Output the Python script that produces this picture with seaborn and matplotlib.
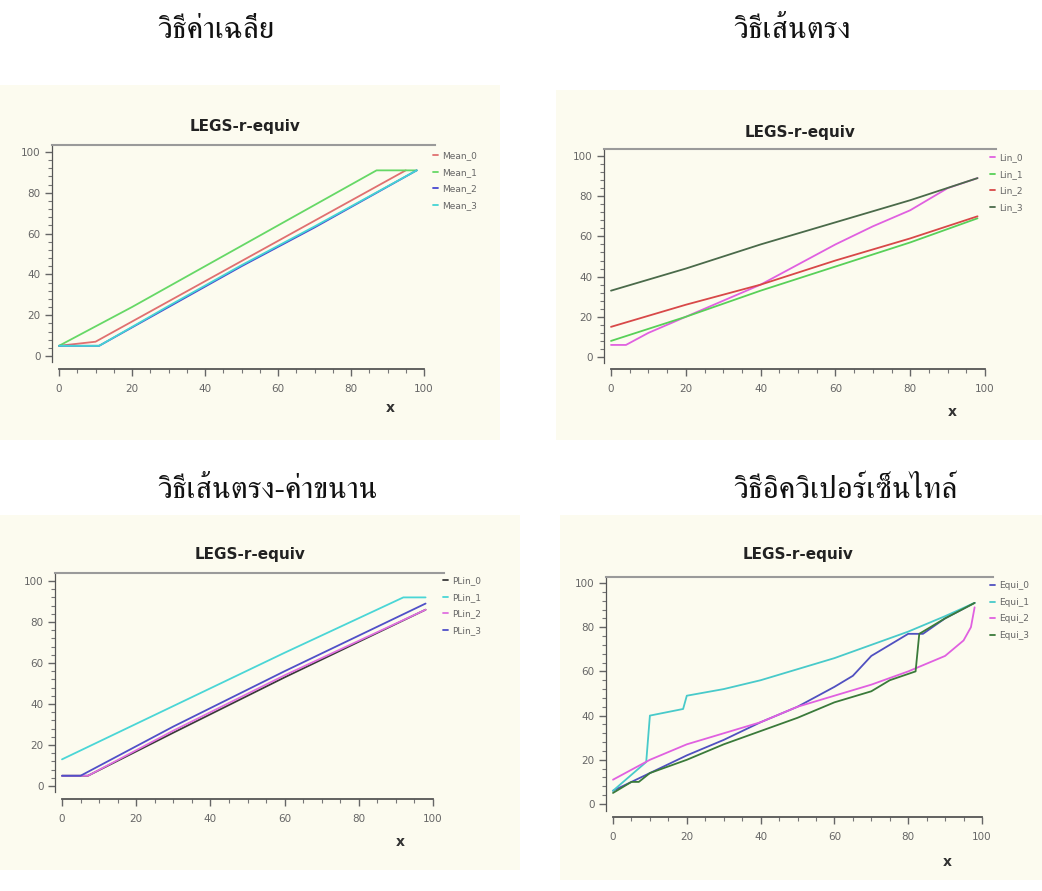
import numpy as np
import pandas as pd
import matplotlib
matplotlib.use("Agg")
import matplotlib.pyplot as plt
from matplotlib import font_manager
from matplotlib.ft2font import FT2Font
from matplotlib.patches import Rectangle
from matplotlib.ticker import MultipleLocator
import seaborn as sns

# ---- data (x, y knots per series) ----
headings = ["วิธีค่าเฉลี่ย", "วิธีเส้นตรง", "วิธีเส้นตรง-ค่าขนาน", "วิธีอิควิเปอร์เซ็นไทล์"]
chart_title = "LEGS-r-equiv"

mean_names = ["Mean_0", "Mean_1", "Mean_2", "Mean_3"]
mean_x = [[0, 10, 95],
          [0, 20, 40, 60, 87, 98],
          [0, 11, 30, 50, 70, 98],
          [0, 11, 30, 50, 70, 98]]
mean_y = [[5, 7, 91],
          [5, 24, 44, 64, 91, 91],
          [5, 5, 24, 44, 63, 91],
          [5, 5, 24.5, 44.5, 63.5, 91]]

lin_names = ["Lin_0", "Lin_1", "Lin_2", "Lin_3"]
lin_x = [[0, 4, 10, 20, 30, 40, 50, 60, 70, 80, 90, 98],
         [0, 20, 40, 60, 80, 98],
         [0, 20, 40, 60, 80, 98],
         [0, 20, 40, 60, 80, 98]]
lin_y = [[6, 6, 12, 20, 28, 36, 46, 56, 65, 73, 84, 89],
         [8, 20, 33, 45, 57, 69],
         [15, 26, 36, 48, 59, 70],
         [33, 44, 56, 67, 78, 89]]

plin_names = ["PLin_0", "PLin_1", "PLin_2", "PLin_3"]
plin_x = [[0, 7, 30, 60, 98],
          [0, 30, 60, 92, 98],
          [0, 7, 30, 60, 98],
          [0, 5, 30, 60, 98]]
plin_y = [[5, 5, 26, 53, 86],
          [13, 39, 65, 92, 92],
          [5, 5, 27, 54, 86],
          [5, 5, 29, 56, 89]]

equi_names = ["Equi_0", "Equi_1", "Equi_2", "Equi_3"]
equi_x = [[0, 10, 20, 30, 40, 50, 60, 65, 70, 75, 80, 84, 90, 98],
          [0, 9, 10, 19, 20, 30, 40, 48, 60, 70, 80, 90, 98],
          [0, 10, 20, 30, 40, 50, 60, 70, 80, 90, 95, 97, 98],
          [0, 5, 7, 10, 20, 30, 40, 50, 60, 70, 75, 82, 83, 90, 98]]
equi_y = [[6, 14, 22, 29, 37, 44, 53, 58, 67, 72, 77, 77, 84, 91],
          [6, 19, 40, 43, 49, 52, 56, 60, 66, 72, 78, 85, 91],
          [11, 20, 27, 32, 37, 44, 49, 54, 60, 67, 74, 80, 89],
          [5, 10, 10, 14, 20, 27, 33, 39, 46, 51, 56, 60, 77, 84, 91]]

colors = {
    "Mean": ["#e07070", "#66d866", "#4848d0", "#44d4d4"],
    "Lin": ["#e060e0", "#58d058", "#d84848", "#4a6a4a"],
    "PLin": ["#3a3a3a", "#4ad6d6", "#e070e0", "#5050c8"],
    "Equi": ["#5050c0", "#48caca", "#e060e0", "#3a7a3a"],
}

# ---- fonts ----
def find_thai_font():
    cands = []
    for f in font_manager.fontManager.ttflist:
        try:
            if FT2Font(f.fname).get_char_index(ord("ว")):
                cands.append(f.name)
        except Exception:
            pass
    cands.sort(key=lambda n: (0 if "Serif" in n else 1, n))
    return cands[0] if cands else "DejaVu Sans"

sns.set_style("ticks")
thai = find_thai_font()
plt.rcParams["font.family"] = [thai, "DejaVu Sans"]

W, H = 1042, 891
fig = plt.figure(figsize=(W / 100, H / 100), dpi=100)
fig.patch.set_facecolor("white")

# cream panel backgrounds of the scanned page
for (l, t, r, b) in [(0, 85, 500, 440), (556, 90, 1042, 440),
                     (0, 515, 520, 870), (560, 515, 1042, 880)]:
    fig.patches.append(Rectangle((l / W, 1 - b / H), (r - l) / W, (b - t) / H,
                                 transform=fig.transFigure, facecolor="#fcfbef",
                                 edgecolor="none", zorder=-5))

heads_pos = [(157, 31), (733, 31), (157, 491), (733, 491)]
for txt, (hx, hy) in zip(headings, heads_pos):
    fig.text(hx / W, 1 - hy / H, txt, ha="left", va="center", fontsize=22.5,
             color="#111111", family=[thai, "DejaVu Sans"])

# panel geometry in pixels: x=0, x=100, y=0, y=100, top line, x-axis line
panels = [
    ("Mean", mean_names, mean_x, mean_y, (59, 424, 356, 152, 145, 367), (245, 127), (390, 408), (433, 151)),
    ("Lin", lin_names, lin_x, lin_y, (611, 985, 357, 156, 149, 367), (800, 132), (952, 412), (990, 153)),
    ("PLin", plin_names, plin_x, plin_y, (62, 433, 786, 581, 573, 797), (250, 555), (400, 842), (443, 576)),
    ("Equi", equi_names, equi_x, equi_y, (613, 982, 804, 583, 577, 815), (798, 555), (947, 862), (990, 581)),
]

tick_font = ["Liberation Sans Narrow", "DejaVu Sans"]

for key, names, xs, ys, geo, tpos, xlpos, legpos in panels:
    x0, x100, y0, y100, top, xaxis = geo
    sx = (x100 - x0) / 100.0
    sy = (y0 - y100) / 100.0
    xmin, xmax = -2, 103
    ytop = 100 + (y100 - top) / sy
    ybot = -3
    left_px = x0 + xmin * sx
    right_px = x0 + xmax * sx
    bot_px = y0 - ybot * sy
    ax = fig.add_axes([left_px / W, 1 - bot_px / H, (right_px - left_px) / W, (bot_px - top) / H])
    ax.set_facecolor("none")

    rows = []
    for n, xx, yy in zip(names, xs, ys):
        for a, b in zip(xx, yy):
            rows.append({"x": a, "y": b, "series": n})
    df = pd.DataFrame(rows)
    sns.lineplot(data=df, x="x", y="y", hue="series", palette=dict(zip(names, colors[key])),
                 ax=ax, linewidth=1.3, sort=False, estimator=None, legend=False)

    ax.set_xlim(xmin, xmax)
    ax.set_ylim(ybot, ytop)
    ax.set_xlabel("")
    ax.set_ylabel("")
    ax.xaxis.set_minor_locator(MultipleLocator(5))
    ax.yaxis.set_minor_locator(MultipleLocator(4))
    ax.set_xticks([0, 20, 40, 60, 80, 100])
    ax.set_yticks([0, 20, 40, 60, 80, 100])
    ax.spines["right"].set_visible(False)
    ax.spines["top"].set_color("#9a9a9a")
    ax.spines["top"].set_linewidth(1.5)
    ax.spines["left"].set_color("#555555")
    ax.spines["bottom"].set_color("#555555")
    ax.spines["left"].set_linewidth(0.9)
    ax.spines["bottom"].set_linewidth(1.3)
    ax.spines["bottom"].set_bounds(0, 100)
    ax.spines["bottom"].set_position(("outward", xaxis - bot_px))
    ax.tick_params(axis="both", which="major", direction="out", length=5, width=1,
                   colors="#666666", labelsize=7.5, pad=3)
    ax.tick_params(axis="both", which="minor", direction="out", length=3, width=0.8,
                   colors="#777777")
    ax.tick_params(axis="x", pad=6)
    for lab in ax.get_xticklabels() + ax.get_yticklabels():
        lab.set_family(tick_font)

    fig.text(tpos[0] / W, 1 - tpos[1] / H, chart_title, ha="center", va="center",
             fontsize=11, fontweight="bold", color="#222222", family=["DejaVu Sans"])
    fig.text(xlpos[0] / W, 1 - xlpos[1] / H, "x", ha="center", va="center",
             fontsize=10, fontweight="bold", color="#333333", family=["DejaVu Sans"])

    handles = [plt.Line2D([], [], color=c, lw=1.3) for c in colors[key]]
    leg = fig.legend(handles, names, loc="upper left",
                     bbox_to_anchor=(legpos[0] / W, 1 - legpos[1] / H),
                     frameon=False, handlelength=0.6, handletextpad=0.4,
                     labelspacing=0.85, borderaxespad=0, borderpad=0,
                     prop={"family": tick_font, "size": 6.5})
    for t in leg.get_texts():
        t.set_color("#666666")

fig.savefig("out.png", dpi=100)
